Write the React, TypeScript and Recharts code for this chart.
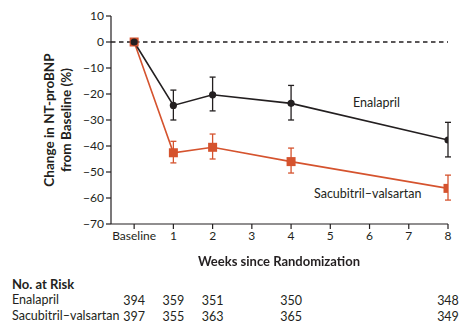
import React from 'react'
import { ErrorBar, Label, Line, LineChart, ReferenceDot, ReferenceLine, XAxis, YAxis } from 'recharts'

const weeks = [0, 1, 2, 4, 8]
const enalapril = [0, -24.4, -20.3, -23.6, -37.7]
const enaLow = [0, -30, -26.5, -30, -44.2]
const enaHigh = [0, -18.5, -13.5, -16.7, -30.9]
const sacubitril = [0, -42.6, -40.5, -46, -56.3]
const sacLow = [0, -46.5, -45, -50.4, -60.8]
const sacHigh = [0, -38.2, -35.4, -40.8, -51.2]

const xTicks = [0, 1, 2, 3, 4, 5, 6, 7, 8]
const yTicks = [10, 0, -10, -20, -30, -40, -50, -60, -70]

const riskWeeks = [0, 1, 2, 4, 8]
const enaRisk = [394, 359, 351, 350, 348]
const sacRisk = [397, 355, 363, 365, 349]

const INK = '#231f20'
const ORANGE = '#d5532e'
const FONT = 'Lato, "Open Sans", sans-serif'

const data = weeks.map((w, i) => ({
  week: w,
  ena: enalapril[i],
  sac: sacubitril[i],
  enaErr: w === 0 ? null : [enalapril[i] - enaLow[i], enaHigh[i] - enalapril[i]],
  sacErr: w === 0 ? null : [sacubitril[i] - sacLow[i], sacHigh[i] - sacubitril[i]],
}))

const fmtY = (v: number) => (v < 0 ? `\u2212${Math.abs(v)}` : `${v}`)

function SquareDot({ cx, cy }: any) {
  if (cx == null || cy == null) return null
  return <rect x={cx - 4.5} y={cy - 4.5} width={9} height={9} fill={ORANGE} />
}

function YTitle({ viewBox }: any) {
  const cy = viewBox.y + viewBox.height / 2
  return (
    <g fontFamily={FONT} fontWeight={700} fontSize={13.5} fill={INK}>
      <text x={49} y={cy} textAnchor="middle" dominantBaseline="central" transform={`rotate(-90 49 ${cy})`}>
        Change in NT-proBNP
      </text>
      <text x={66} y={cy} textAnchor="middle" dominantBaseline="central" transform={`rotate(-90 66 ${cy})`}>
        from Baseline (%)
      </text>
    </g>
  )
}

export default function App() {
  const txt: React.CSSProperties = { position: 'absolute', fontFamily: FONT, color: INK, whiteSpace: 'nowrap', lineHeight: 1 }
  return (
    <div style={{ position: 'fixed', left: 0, top: 0, width: 476, height: 329, background: '#fff' }}>
      <LineChart width={476} height={329} data={data} margin={{ top: 16, right: 28, bottom: 75, left: 81 }}>
        <XAxis
          dataKey="week"
          type="number"
          domain={[-0.59, 8]}
          ticks={xTicks}
          tickFormatter={(v) => (v === 0 ? 'Baseline' : `${v}`)}
          tick={{ fontSize: 12, fill: INK, fontFamily: FONT }}
          tickSize={5}
          tickMargin={2}
          stroke={INK}
          strokeWidth={1.2}
          height={30}
          allowDataOverflow
        />
        <YAxis
          type="number"
          domain={[-70, 10]}
          ticks={yTicks}
          tickFormatter={fmtY}
          tick={{ fontSize: 12, fill: INK, fontFamily: FONT }}
          tickSize={5}
          tickMargin={2}
          stroke={INK}
          strokeWidth={1.2}
          width={30}
          interval={0}
        >
          <Label content={<YTitle />} />
        </YAxis>
        <ReferenceLine y={0} stroke={INK} strokeWidth={1.3} strokeDasharray="4.5 3.5" />
        <Line
          dataKey="sac"
          stroke={ORANGE}
          strokeWidth={1.6}
          dot={<SquareDot />}
          isAnimationActive={false}
        >
          <ErrorBar dataKey="sacErr" width={3} stroke={ORANGE} strokeWidth={1.3} direction="y" />
        </Line>
        <Line
          dataKey="ena"
          stroke={INK}
          strokeWidth={1.6}
          dot={{ r: 3.6, fill: INK, stroke: INK, strokeWidth: 0 }}
          isAnimationActive={false}
        >
          <ErrorBar dataKey="enaErr" width={3} stroke={INK} strokeWidth={1.3} direction="y" />
        </Line>
        {riskWeeks.map((w, i) => (
          <ReferenceDot
            key={`e${w}`}
            x={w}
            y={-99.5}
            r={0}
            ifOverflow="visible"
            label={{ value: enaRisk[i], position: 'center', fill: INK, fontSize: 12.5, fontFamily: FONT }}
          />
        ))}
        {riskWeeks.map((w, i) => (
          <ReferenceDot
            key={`s${w}`}
            x={w}
            y={-105.7}
            r={0}
            ifOverflow="visible"
            label={{ value: sacRisk[i], position: 'center', fill: INK, fontSize: 12.5, fontFamily: FONT }}
          />
        ))}
      </LineChart>
      <div style={{ ...txt, left: 0, width: 558, top: 255, textAlign: 'center', fontWeight: 700, fontSize: 13 }}>
        Weeks since Randomization
      </div>
      <div style={{ ...txt, left: 353, top: 97, fontSize: 12.5 }}>Enalapril</div>
      <div style={{ ...txt, left: 314, top: 188, fontSize: 12.5 }}>Sacubitril–valsartan</div>
      <div style={{ ...txt, left: 12, top: 278, fontWeight: 700, fontSize: 13 }}>No. at Risk</div>
      <div style={{ ...txt, left: 12, top: 294, fontSize: 12.5 }}>Enalapril</div>
      <div style={{ ...txt, left: 12, top: 310, fontSize: 12.5 }}>Sacubitril–valsartan</div>
    </div>
  )
}
